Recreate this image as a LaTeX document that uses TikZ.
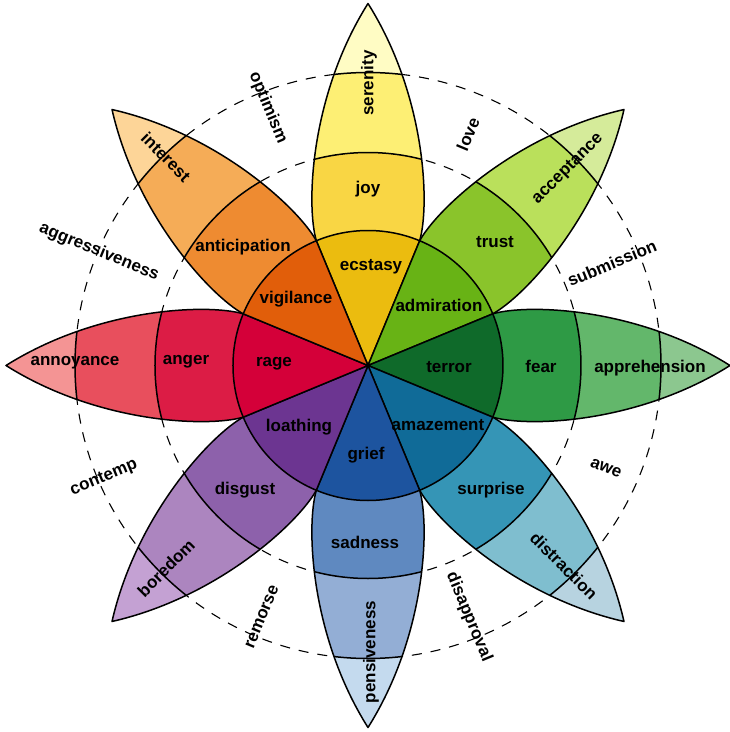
\documentclass[tikz,border=0pt]{standalone}
\usepackage{fontspec}
\setmainfont{Liberation Sans}

\definecolor{joyIn}{HTML}{EBBC0F}
\definecolor{joyMid}{HTML}{F9D644}
\definecolor{joyOut}{HTML}{FDEF74}
\definecolor{joyTip}{HTML}{FFFCC4}
\definecolor{trustIn}{HTML}{68B315}
\definecolor{trustMid}{HTML}{8AC42B}
\definecolor{trustOut}{HTML}{BAE05B}
\definecolor{trustTip}{HTML}{D5EB9A}
\definecolor{fearIn}{HTML}{0F6A2A}
\definecolor{fearMid}{HTML}{2E9A45}
\definecolor{fearOut}{HTML}{63B76B}
\definecolor{fearTip}{HTML}{8CC78F}
\definecolor{surpIn}{HTML}{106B98}
\definecolor{surpMid}{HTML}{3595B6}
\definecolor{surpOut}{HTML}{7FBECF}
\definecolor{surpTip}{HTML}{B7D3E0}
\definecolor{sadIn}{HTML}{1D549F}
\definecolor{sadMid}{HTML}{5F89C0}
\definecolor{sadOut}{HTML}{93AED5}
\definecolor{sadTip}{HTML}{C4DAEE}
\definecolor{disgIn}{HTML}{6C3591}
\definecolor{disgMid}{HTML}{8D61AB}
\definecolor{disgOut}{HTML}{AC85BF}
\definecolor{disgTip}{HTML}{C4A1D3}
\definecolor{angIn}{HTML}{D40039}
\definecolor{angMid}{HTML}{DC1C45}
\definecolor{angOut}{HTML}{E84F5D}
\definecolor{angTip}{HTML}{F49494}
\definecolor{antIn}{HTML}{E15E0A}
\definecolor{antMid}{HTML}{EE8B31}
\definecolor{antOut}{HTML}{F5AC57}
\definecolor{antTip}{HTML}{FDD598}

\tikzset{
  edge/.style={line width=1.5pt, black, line join=round},
  ring/.style={line width=1.1pt, dash pattern=on 10pt off 9pt},
  word/.style={font=\bfseries\fontsize{17}{19}\selectfont, inner sep=0pt},
}
\newcommand{\petalpath}{(0,0) -- (22.5:135) .. controls (160,62) and (270,58) .. (362,0) .. controls (270,-58) and (160,-62) .. (-22.5:135) -- cycle}

\begin{document}
\begin{tikzpicture}[x=1pt,y=1pt]
  \useasboundingbox (-368,-366.5) rectangle (362,365.5);
  % dyad rings
  \draw[ring] (0,0) circle (293);
  \draw[ring] (0,0) circle (213);

  % petals
  \foreach \ang/\cA/\cB/\cC/\cD in {90/joyIn/joyMid/joyOut/joyTip,
      45/trustIn/trustMid/trustOut/trustTip, 0/fearIn/fearMid/fearOut/fearTip,
      -45/surpIn/surpMid/surpOut/surpTip, -90/sadIn/sadMid/sadOut/sadTip,
      -135/disgIn/disgMid/disgOut/disgTip, 180/angIn/angMid/angOut/angTip,
      135/antIn/antMid/antOut/antTip} {
    \begin{scope}[rotate=\ang]
      \begin{scope}
        \clip \petalpath;
        \fill[\cD] (0,0) circle (370);
        \fill[\cC] (0,0) circle (293);
        \fill[\cB] (0,0) circle (213);
        \fill[\cA] (0,0) circle (135);
        \draw[edge] (0,0) circle (293) (0,0) circle (213) (0,0) circle (135);
      \end{scope}
      \draw[edge] \petalpath;
    \end{scope}
  }

  % inner ring
  \node[word] (ecstasy) at (3,98.5) {ecstasy};
  \node[word] (admiration) at (71,60.5) {admiration};
  \node[word] (terror) at (81,-1.5) {terror};
  \node[word] (amazement) at (70,-59.5) {amazement};
  \node[word] (grief) at (-2,-89.5) {grief};
  \node[word] (loathing) at (-69,-61.5) {loathing};
  \node[word] (rage) at (-94,1.5) {rage};
  \node[word] (vigilance) at (-72,66.5) {vigilance};

  % middle ring
  \node[word] (joy) at (0,176.5) {joy};
  \node[word] (trust) at (127,123.5) {trust};
  \node[word] (fear) at (173,-0.5) {fear};
  \node[word] (surprise) at (123,-124.5) {surprise};
  \node[word] (sadness) at (-3,-176.5) {sadness};
  \node[word] (disgust) at (-123,-124.5) {disgust};
  \node[word] (anger) at (-182,3.5) {anger};
  \node[word] (anticipation) at (-125,118.5) {anticipation};

  % outer ring
  \node[word, rotate=90] (serenity) at (1,282.5) {serenity};
  \node[word, rotate=45] (acceptance) at (200,196.5) {acceptance};
  \node[word] (apprehension) at (282,-2.5) {apprehension};
  \node[word, rotate=-45] (distraction) at (196,-200.5) {distraction};
  \node[word, rotate=90] (pensiveness) at (3,-286.5) {pensiveness};
  \node[word, rotate=45] (boredom) at (-202,-202.5) {boredom};
  \node[word] (annoyance) at (-293,2.5) {annoyance};
  \node[word, rotate=-45] (interest) at (-202,208.5) {interest};

  % dyads
  \node[word, rotate=67.5] (love) at (100,231.5) {love};
  \node[word, rotate=22.5] (submission) at (244,102.5) {submission};
  \node[word, rotate=-22.5] (awe) at (238,-102.5) {awe};
  \node[word, rotate=-67.5] (disapproval) at (101,-251.5) {disapproval};
  \node[word, rotate=67.5] (remorse) at (-106,-251.5) {remorse};
  \node[word, rotate=22.5] (contemp) at (-264,-112.5) {contemp};
  \node[word, rotate=-22.5] (aggressiveness) at (-269,113.5) {aggressiveness};
  \node[word, rotate=-67.5] (optimism) at (-100,257.5) {optimism};
\end{tikzpicture}
\end{document}
